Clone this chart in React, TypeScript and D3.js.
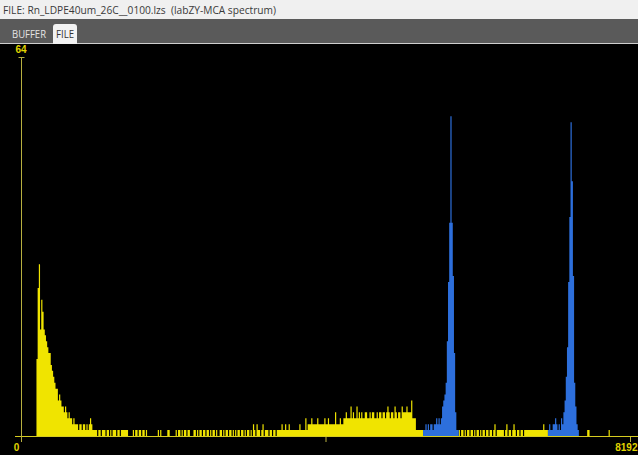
import React, { Component } from "react";
import * as d3 from "d3";

const TITLE = "FILE: Rn_LDPE40um_26C__0100.lzs  (labZY-MCA spectrum)";
const TABS = ["BUFFER", "FILE"];
const ACTIVE_TAB = "FILE";

const CHANNELS = 8192;
const BIN_WIDTH = 16; // channels per drawn bin
const Y_MAX = 64;
const xTickValues = [0, 4096, 8192];
const xTickLabels = ["0", "", "8192"];
const yTickLabel = "64";

// counts per 16-channel bin; each block begins at its start bin
const tailStart = 13;
const tailCounts = [
  13, 25, 29, 18, 23, 21, 18, 17, 16, 15, 14, 14, 12, 11, 10, 9, 8, 8, 6, 7,
  6, 5, 5, 4, 5, 4, 3, 4, 3, 3, 2, 3, 2, 2, 2, 1, 2, 2, 1, 2, 2, 1, 2, 1, 2,
  3, 2, 1, 1, 1,
];

const scatterStart = 63;
const scatterCounts = [
  1, 0, 1, 1, 0, 1, 1, 1, 0, 1, 1, 0, 1, 0, 1, 1, 1, 0, 1, 1, 0, 1, 1,
  1, 1, 1, 1, 0, 0, 0, 0,
  1, 0, 1, 1, 0, 1, 1, 0, 1, 1, 0, 1,
  0, 0, 0, 0, 0, 0, 0, 0, 0,
  1, 0, 1, 0, 0, 0, 0, 0, 1, 1, 0, 0, 0, 0, 0,
  1, 0, 1, 1, 0, 1, 0, 1, 1, 0, 1, 1, 0, 0, 0,
  1, 1, 0, 1, 0, 1, 1, 0, 1, 1, 0, 1, 1, 0,
  1, 0, 1, 1, 0, 1, 0, 0,
  1, 1, 0, 1, 0, 1, 1, 0, 1, 1, 0, 1, 0,
  1, 0, 1, 1, 0, 1, 1, 0, 1, 0, 1, 1, 0, 1, 0,
  2, 1, 0, 2, 1, 1, 0, 1, 2, 0, 1, 1,
  1, 0, 1, 1, 0, 1, 1, 0, 1, 1, 1,
  1, 2, 1, 1, 2, 1, 1, 2, 1, 1, 1,
];

const shelfStart = 229;
const shelfCounts = [
  1, 1, 1, 1, 1, 2, 1, 1, 1, 1, 3, 1,
  2, 2, 2, 3, 2, 2, 2, 2, 3, 2, 2, 2, 2,
  2, 3, 2, 2, 3, 2, 2, 2, 2, 2, 4, 2, 2, 2, 3, 2, 2,
  3, 3, 4, 3, 3, 3, 5, 3, 4, 3, 3, 5, 3, 4,
  3, 4, 3, 3, 4, 4, 3, 3, 4, 3, 4, 4, 3, 3, 4, 3, 4, 4,
  3, 4, 4, 3, 4, 5, 4, 3, 4, 4, 3, 5, 4, 3, 4, 4, 3, 5,
  4, 4, 4, 5, 4, 4, 4, 6, 3, 3, 3, 1, 1, 1, 1, 1, 1,
];

const peak1Start = 338;
const peak1Counts = [
  1, 1, 2, 1, 2, 1, 2, 2, 1, 2, 2, 3, 2, 3, 2, 3, 5, 6, 7, 9, 16, 26, 36, 54,
  36, 27, 14, 4, 1, 1,
];

const valleyStart = 368;
const valleyCounts = [
  1, 0, 1, 1, 0, 1, 0, 1, 1, 0, 1, 1, 0, 1, 0, 1, 1, 0, 1, 0, 1, 1, 0, 1, 1,
  0, 1, 1, 0, 1, 2, 0, 1, 1, 1, 1, 1,
  1, 0, 1, 2, 0, 1, 1, 0, 1, 2, 1, 0, 1, 1, 0, 1, 1, 0, 1,
  1, 1, 1, 1, 1, 1, 1, 1, 1, 1, 1, 1, 1, 1, 1, 2, 1, 1, 1,
];

const peak2Start = 443;
const peak2Counts = [
  1, 2, 1, 1, 2, 2, 3, 2, 1, 2, 1, 3, 2, 4, 6, 10, 15, 26, 37, 53, 43, 27, 9,
  5, 2, 1,
];

const lateHitBins = [476, 477, 494];
const lateHitCounts = [1, 1, 1];

// regions of interest, in bins (start inclusive, end exclusive)
const roiBins = [
  [338, 368],
  [443, 469],
];

const YELLOW = "#f0e400";
const BLUE = "#2d6fdc";
const AXIS = "#d6cc20";
const AXIS_DIM = "#b8b040";
const LABEL = "#e0d400";

class App extends Component {
  svgRef = React.createRef<SVGSVGElement>();

  componentDidMount() {
    this.drawSpectrum();
  }
  componentDidUpdate() {
    this.drawSpectrum();
  }

  drawSpectrum() {
    const svg = d3.select(this.svgRef.current);
    svg.selectAll("*").remove();
    const W = 638,
      H = 455;
    svg.attr("width", W).attr("height", H);

    const uiFont = "'Open Sans', 'Noto Sans', sans-serif";
    const axisFont = "'Liberation Sans Narrow', 'Liberation Sans', sans-serif";

    // window chrome
    svg.append("rect").attr("width", W).attr("height", 19).attr("fill", "#f0f0f0");
    svg
      .append("text")
      .attr("x", 3)
      .attr("y", 14)
      .attr("fill", "#3a3a3a")
      .attr("textLength", 273)
      .attr("lengthAdjust", "spacingAndGlyphs")
      .style("font-family", uiFont)
      .style("font-size", "10.5px")
      .style("white-space", "pre")
      .text(TITLE);
    svg.append("rect").attr("y", 19).attr("width", W).attr("height", 25).attr("fill", "#5a5a5a");
    svg.append("rect").attr("y", 43).attr("width", W).attr("height", 1).attr("fill", "#cfcfcf");
    svg
      .append("path")
      .attr("d", "M53,44 V27 Q53,24 56,24 H74 Q77,24 77,27 V44 Z")
      .attr("fill", "#f2f2f2");
    const tabX = [12, 56];
    const tabW = [34, 18];
    svg
      .selectAll("text.tab")
      .data(TABS)
      .join("text")
      .attr("class", "tab")
      .attr("x", (d, i) => tabX[i])
      .attr("y", 38)
      .attr("textLength", (d, i) => tabW[i])
      .attr("lengthAdjust", "spacingAndGlyphs")
      .attr("fill", (d) => (d === ACTIVE_TAB ? "#333" : "#e4e4e4"))
      .style("font-family", uiFont)
      .style("font-size", "11px")
      .text((d) => d);

    // plot area
    svg.append("rect").attr("y", 44).attr("width", W).attr("height", H - 44).attr("fill", "#000");

    const x = d3.scaleLinear().domain([0, CHANNELS]).range([21, 630]);
    const y = d3.scaleLinear().domain([0, Y_MAX]).range([436, 57]);

    const nBins = CHANNELS / BIN_WIDTH;
    const counts = new Array(nBins).fill(0);
    const blocks: [number, number[]][] = [
      [tailStart, tailCounts],
      [scatterStart, scatterCounts],
      [shelfStart, shelfCounts],
      [peak1Start, peak1Counts],
      [valleyStart, valleyCounts],
      [peak2Start, peak2Counts],
    ];
    blocks.forEach(([start, arr]) => arr.forEach((c, i) => (counts[start + i] = c)));
    lateHitBins.forEach((b, i) => (counts[b] = lateHitCounts[i]));
    const inRoi = (b: number) => roiBins.some(([s, e]) => b >= s && b < e);

    // each bin becomes two points (left & right edge) so the fill is one solid step shape
    const edges = (keep: (b: number) => boolean) => {
      const pts: [number, number][] = [];
      counts.forEach((c, b) => {
        const v = keep(b) ? c : 0;
        pts.push([b * BIN_WIDTH, v], [(b + 1) * BIN_WIDTH, v]);
      });
      return pts;
    };
    const area = d3
      .area<[number, number]>()
      .x((d) => x(d[0]))
      .y0(y(0))
      .y1((d) => y(d[1]));

    svg.append("path").attr("d", area(edges((b) => !inRoi(b)))).attr("fill", YELLOW);
    svg.append("path").attr("d", area(edges(inRoi))).attr("fill", BLUE);

    // axes
    svg
      .append("line")
      .attr("x1", 15)
      .attr("x2", W)
      .attr("y1", y(0) + 0.5)
      .attr("y2", y(0) + 0.5)
      .attr("stroke", AXIS);
    svg
      .append("line")
      .attr("x1", x(0) + 0.5)
      .attr("x2", x(0) + 0.5)
      .attr("y1", y(Y_MAX))
      .attr("y2", y(0) + 3)
      .attr("stroke", AXIS_DIM);
    svg
      .append("line")
      .attr("x1", x(0) - 2.5)
      .attr("x2", x(0) + 3.5)
      .attr("y1", y(Y_MAX) + 0.5)
      .attr("y2", y(Y_MAX) + 0.5)
      .attr("stroke", AXIS_DIM);

    const xAxis = svg
      .append("g")
      .attr("transform", `translate(0,${y(0) + 1})`)
      .call(
        d3
          .axisBottom(x)
          .tickValues(xTickValues)
          .tickSize(5)
          .tickSizeOuter(0)
          .tickPadding(2)
          .tickFormat((d, i) => xTickLabels[i])
      );
    xAxis.select(".domain").remove();
    xAxis.selectAll(".tick line").attr("stroke", AXIS_DIM);
    xAxis
      .selectAll(".tick text")
      .attr("fill", LABEL)
      .attr("text-anchor", (d, i) => (i === xTickValues.length - 1 ? "end" : "middle"))
      .attr("dx", (d, i) => (i === 0 ? -5 : i === xTickValues.length - 1 ? 7 : 0))
      .style("font-family", axisFont)
      .style("font-weight", "bold")
      .style("font-size", "10px");

    svg
      .append("text")
      .attr("x", x(0))
      .attr("y", y(Y_MAX) - 4)
      .attr("text-anchor", "middle")
      .attr("fill", LABEL)
      .style("font-family", axisFont)
      .style("font-weight", "bold")
      .style("font-size", "10px")
      .text(yTickLabel);
  }

  render() {
    return (
      <div style={{ position: "fixed", left: 0, top: 0 }}>
        <svg ref={this.svgRef} style={{ display: "block" }}></svg>
      </div>
    );
  }
}

export default App;
